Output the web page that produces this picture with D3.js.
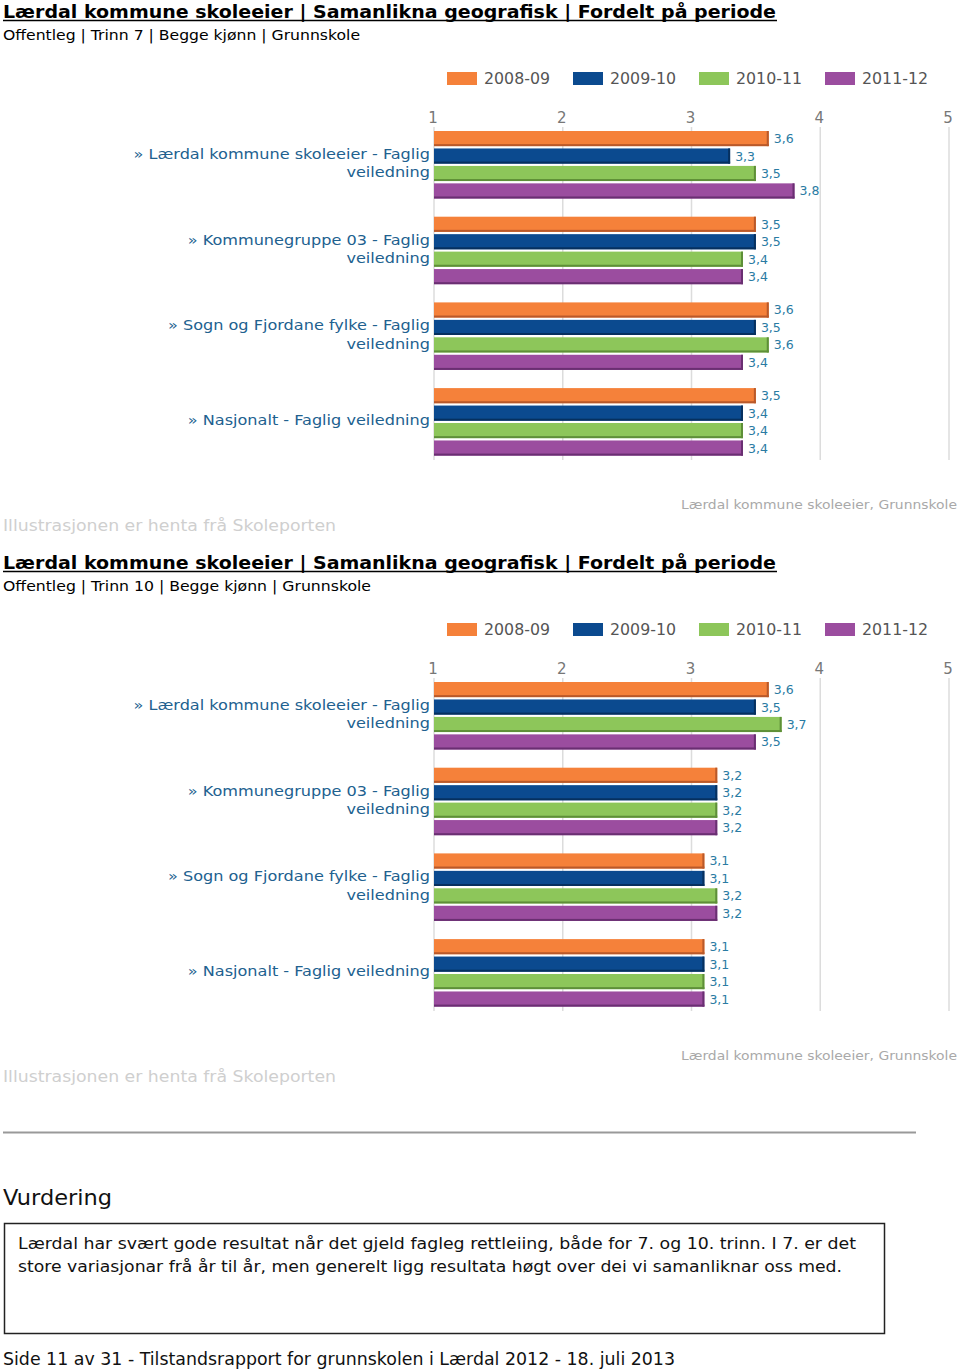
<!DOCTYPE html>
<html>
<head>
<meta charset="utf-8">
<script src="https://cdn.jsdelivr.net/npm/d3@7"></script>
<style>
  html, body { margin: 0; padding: 0; background: #fff; }
  svg { display: block; }
  text { font-family: "DejaVu Sans", Verdana, sans-serif; }
</style>
</head>
<body>
<svg id="page" width="960" height="1371"></svg>
<script>
// ---------- data ----------
const periods = ["2008-09", "2009-10", "2010-11", "2011-12"];
const periodColors = ["#F5813A", "#0B4A8F", "#8DC65A", "#9B4D9F"];
const periodEdge = ["#B9592A", "#06305F", "#5E8F38", "#6A2F72"];
const categories = [
  "Lærdal kommune skoleeier - Faglig veiledning",
  "Kommunegruppe 03 - Faglig veiledning",
  "Sogn og Fjordane fylke - Faglig veiledning",
  "Nasjonalt - Faglig veiledning"
];
const categoryLines = [
  ["» Lærdal kommune skoleeier - Faglig", "veiledning"],
  ["» Kommunegruppe 03 - Faglig", "veiledning"],
  ["» Sogn og Fjordane fylke - Faglig", "veiledning"],
  ["» Nasjonalt - Faglig veiledning"]
];
// values[category][period]
const trinn7Values = [
  [3.6, 3.3, 3.5, 3.8],
  [3.5, 3.5, 3.4, 3.4],
  [3.6, 3.5, 3.6, 3.4],
  [3.5, 3.4, 3.4, 3.4]
];
const trinn10Values = [
  [3.6, 3.5, 3.7, 3.5],
  [3.2, 3.2, 3.2, 3.2],
  [3.1, 3.1, 3.2, 3.2],
  [3.1, 3.1, 3.1, 3.1]
];
const tickValues = [1, 2, 3, 4, 5];
const chartTitle = "Lærdal kommune skoleeier | Samanlikna geografisk | Fordelt på periode";
const subtitle7 = "Offentleg | Trinn 7 | Begge kjønn | Grunnskole";
const subtitle10 = "Offentleg | Trinn 10 | Begge kjønn | Grunnskole";
const sourceNote = "Illustrasjonen er henta frå Skoleporten";
const ownerNote = "Lærdal kommune skoleeier, Grunnskole";
const sectionTitle = "Vurdering";
const assessmentLines = [
  "Lærdal har svært gode resultat når det gjeld fagleg rettleiing, både for 7. og 10. trinn. I 7. er det",
  "store variasjonar frå år til år, men generelt ligg resultata høgt over dei vi samanliknar oss med."
];
const footerText = "Side 11 av 31 - Tilstandsrapport for grunnskolen i Lærdal 2012 - 18. juli 2013";

// ---------- drawing ----------
const svg = d3.select("#page");
const fmt = v => d3.format(".1f")(v).replace(".", ",");

function fitText(sel, w) {
  sel.attr("textLength", w).attr("lengthAdjust", "spacingAndGlyphs");
  return sel;
}
function stretch(sel, k) {
  const w = sel.node().getComputedTextLength();
  return fitText(sel, w * k);
}

const x = d3.scaleLinear().domain([1, 5]).range([434, 949]);

function drawChart(offset, subtitle, values) {
  const g = svg.append("g").attr("transform", `translate(0,${offset})`);

  // title
  fitText(g.append("text").attr("x", 3).attr("y", 17.5)
    .attr("font-size", 17).attr("font-weight", "bold").attr("fill", "#000")
    .text(chartTitle), 773);
  g.append("line").attr("x1", 3).attr("x2", 777).attr("y1", 20.5).attr("y2", 20.5)
    .attr("stroke", "#000").attr("stroke-width", 1.5);
  fitText(g.append("text").attr("x", 3).attr("y", 40)
    .attr("font-size", 14).attr("fill", "#000").text(subtitle),
    subtitle === subtitle7 ? 357 : 368);

  // legend
  const legX = d3.scalePoint().domain(periods).range([447, 825]);
  const leg = g.append("g");
  periods.forEach((p, i) => {
    leg.append("rect").attr("x", legX(p)).attr("y", 72).attr("width", 30).attr("height", 13)
      .attr("fill", periodColors[i]);
    fitText(leg.append("text").attr("x", legX(p) + 37).attr("y", 78.5)
      .attr("dominant-baseline", "central").attr("font-size", 15).attr("fill", "#555")
      .text(p), 66);
  });

  // y scales
  const y0 = d3.scaleBand().domain(categories).range([131, 455.6]).paddingInner(0.2124).paddingOuter(0);
  const y1 = d3.scaleBand().domain(periods).range([0, y0.bandwidth()]).paddingInner(0.133).paddingOuter(0);

  // grid + ticks
  g.append("g").selectAll("line").data(tickValues).join("line")
    .attr("x1", d => x(d)).attr("x2", d => x(d)).attr("y1", 127).attr("y2", 460)
    .attr("stroke", "#dcdcdc").attr("stroke-width", 1.5);
  g.append("g").selectAll("text").data(tickValues).join("text")
    .attr("x", d => x(d) - 1).attr("y", 118).attr("text-anchor", "middle")
    .attr("dominant-baseline", "central").attr("font-size", 15).attr("fill", "#777")
    .text(d => d);

  // bars
  categories.forEach((c, ci) => {
    const grp = g.append("g").attr("transform", `translate(0,${y0(c)})`);
    periods.forEach((p, pi) => {
      const v = values[ci][pi];
      const by = y1(p), bh = y1.bandwidth();
      const bw = x(v) - x(1);
      grp.append("rect").attr("x", x(1)).attr("y", by).attr("width", bw).attr("height", bh)
        .attr("fill", periodColors[pi]);
      grp.append("rect").attr("x", x(1)).attr("y", by + bh - 2).attr("width", bw).attr("height", 2)
        .attr("fill", periodEdge[pi]);
      grp.append("rect").attr("x", x(v) - 2).attr("y", by).attr("width", 2).attr("height", bh)
        .attr("fill", periodEdge[pi]);
      grp.append("text").attr("x", x(v) + 5).attr("y", by + bh / 2)
        .attr("dominant-baseline", "central").attr("font-size", 12.5).attr("fill", "#2a7ba3")
        .text(fmt(v));
    });
    // category label
    const lines = categoryLines[ci];
    const cy = y0(c) + y0.bandwidth() / 2 - 1.5;
    lines.forEach((ln, li) => {
      const t = g.append("text").attr("x", 430)
        .attr("y", cy + (li - (lines.length - 1) / 2) * 18.5)
        .attr("text-anchor", "end").attr("dominant-baseline", "central")
        .attr("font-size", 14.5).attr("fill", "#21618f").text(ln);
      stretch(t, 1.11);
    });
  });

  // notes
  fitText(g.append("text").attr("x", 681).attr("y", 504).attr("dominant-baseline", "central")
    .attr("font-size", 12.5).attr("fill", "#a9a9a9").text(ownerNote), 276);
  fitText(g.append("text").attr("x", 3).attr("y", 525).attr("dominant-baseline", "central")
    .attr("font-size", 16).attr("fill", "#cfcfcf").text(sourceNote), 333);
}

drawChart(0, subtitle7, trinn7Values);
drawChart(551, subtitle10, trinn10Values);

// rule
svg.append("line").attr("x1", 3).attr("x2", 916).attr("y1", 1132.5).attr("y2", 1132.5)
  .attr("stroke", "#999").attr("stroke-width", 2);

// Vurdering
fitText(svg.append("text").attr("x", 3).attr("y", 1198).attr("dominant-baseline", "central")
  .attr("font-size", 21).attr("fill", "#111").text(sectionTitle), 109);

// box
svg.append("rect").attr("x", 4.5).attr("y", 1223.5).attr("width", 880).attr("height", 110)
  .attr("fill", "none").attr("stroke", "#222").attr("stroke-width", 1.5);
const lineWidths = [838, 824];
assessmentLines.forEach((ln, i) => {
  fitText(svg.append("text").attr("x", 18).attr("y", 1243 + i * 23).attr("dominant-baseline", "central")
    .attr("font-size", 16).attr("fill", "#111").text(ln), lineWidths[i]);
});

// footer
fitText(svg.append("text").attr("x", 3).attr("y", 1359).attr("dominant-baseline", "central")
  .attr("font-size", 17).attr("fill", "#111").text(footerText), 672);
</script>
</body>
</html>
